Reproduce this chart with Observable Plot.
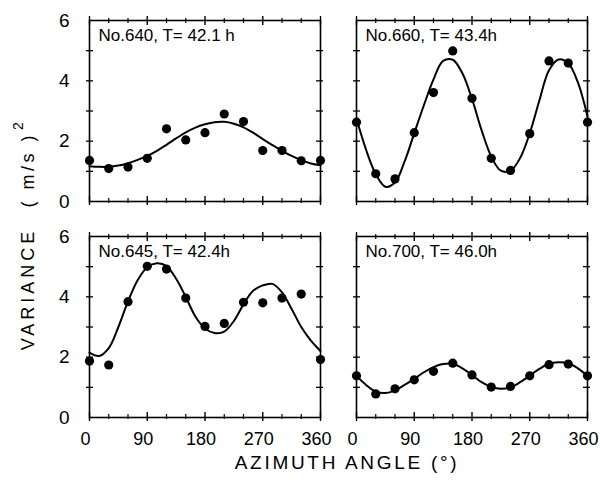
<!DOCTYPE html>
<html>
<head>
<meta charset="utf-8">
<script src="https://cdn.jsdelivr.net/npm/d3@7"></script>
<script src="https://cdn.jsdelivr.net/npm/@observablehq/plot@0.6"></script>
<style>
  body { margin: 0; background: #fff; }
  #chart { width: 600px; height: 482px; }
  #chart svg { display: block; }
</style>
</head>
<body>
<div id="chart"></div>
<script>
// Azimuth angles of the measured variances (degrees)
const angles = [0, 30, 60, 90, 120, 150, 180, 210, 240, 270, 300, 330, 360];
// Angles at which the fitted curves are sampled
const fitAngles = [0, 15, 30, 45, 60, 75, 90, 105, 120, 135, 150, 165, 180,
                   195, 210, 225, 240, 255, 270, 285, 300, 315, 330, 345, 360];

// Panel titles and their grid cells (column, row)
const panelLabels = ["No.640, T= 42.1 h", "No.660, T= 43.4h", "No.645, T= 42.4h", "No.700, T= 46.0h"];
const panelCols = [0, 1, 0, 1];
const panelRows = [0, 0, 1, 1];

// Measured variance (m/s)^2
const obs640 = [1.36, 1.09, 1.14, 1.43, 2.41, 2.04, 2.28, 2.90, 2.65, 1.69, 1.69, 1.35, 1.36];
const obs660 = [2.63, 0.92, 0.75, 2.28, 3.61, 4.99, 3.42, 1.43, 1.03, 2.25, 4.66, 4.59, 2.63];
const obs645 = [1.87, 1.74, 3.84, 5.01, 4.92, 3.96, 3.02, 3.12, 3.82, 3.80, 3.96, 4.09, 1.92];
const obs700 = [1.38, 0.78, 0.95, 1.25, 1.53, 1.80, 1.41, 1.01, 1.03, 1.38, 1.75, 1.77, 1.38];

// Fitted curves
const fit640 = [1.17, 1.15, 1.15, 1.19, 1.27, 1.38, 1.51, 1.68, 1.88, 2.09, 2.29, 2.45, 2.56,
                2.63, 2.64, 2.58, 2.46, 2.28, 2.07, 1.87, 1.68, 1.51, 1.37, 1.26, 1.20];
const fit660 = [2.74, 1.71, 0.91, 0.49, 0.63, 1.33, 2.26, 3.19, 4.05, 4.66, 4.70, 4.25, 3.40,
                2.36, 1.49, 1.02, 1.02, 1.44, 2.26, 3.35, 4.35, 4.71, 4.58, 3.95, 2.82];
const fit645 = [2.15, 2.04, 2.30, 3.00, 3.85, 4.55, 4.98, 5.11, 5.02, 4.60, 4.00, 3.35, 2.95,
                2.80, 2.85, 3.20, 3.75, 4.20, 4.38, 4.43, 4.15, 3.60, 3.00, 2.55, 2.20];
const fit700 = [1.38, 1.08, 0.86, 0.81, 0.90, 1.08, 1.28, 1.50, 1.67, 1.77, 1.78, 1.63, 1.41,
                1.17, 1.01, 0.95, 1.00, 1.17, 1.39, 1.61, 1.78, 1.83, 1.80, 1.63, 1.38];

// Axis ticks
const xLabelTicks = [0, 90, 180, 270, 360];
const xMinorTicks = [30, 60, 120, 150, 210, 240, 300, 330];
const yLabelTicks = [0, 2, 4, 6];
const yTicks = [1, 2, 3, 4, 5];

const observed = [obs640, obs660, obs645, obs700];
const fitted = [fit640, fit660, fit645, fit700];

const pointRows = observed.flatMap((vals, p) =>
  vals.map((v, i) => ({panel: p, col: panelCols[p], row: panelRows[p], angle: angles[i], value: v})));
const curveRows = fitted.flatMap((vals, p) =>
  vals.map((v, i) => ({panel: p, col: panelCols[p], row: panelRows[p], angle: fitAngles[i], value: v})));
const labelRows = panelLabels.map((t, p) => ({label: t, col: panelCols[p], row: panelRows[p]}));

const font = "'Liberation Sans', Arial, sans-serif";

// tick lengths in axis units (one pixel is about 1.56° across and 0.033 up)
const degPx = 360 / 231, valPx = 6 / 182;
const tickColor = "#000";

const chart = Plot.plot({
  width: 600,
  height: 482,
  marginLeft: 89,
  marginRight: 13,
  marginTop: 19,
  marginBottom: 64,
  style: {fontFamily: font, fontSize: "17px", color: "#000", background: "#fff"},
  fx: {domain: [0, 1], axis: null, paddingInner: 0.135, paddingOuter: 0},
  fy: {domain: [0, 1], axis: null, paddingInner: 0.161, paddingOuter: 0},
  x: {domain: [0, 360]},
  y: {domain: [0, 6]},
  marks: [
    Plot.frame({stroke: "#000", strokeWidth: 1.6}),
    // border ticks on every panel, crossing the frame
    Plot.ruleX(xLabelTicks, {x: d => d, y1: -4 * valPx, y2: 5 * valPx, stroke: tickColor, strokeWidth: 1.4}),
    Plot.ruleX(xMinorTicks, {x: d => d, y1: -2 * valPx, y2: 3 * valPx, stroke: tickColor, strokeWidth: 1.2}),
    Plot.ruleX(xLabelTicks, {x: d => d, y1: 6 - 5 * valPx, y2: 6 + 4 * valPx, stroke: tickColor, strokeWidth: 1.4}),
    Plot.ruleX(xMinorTicks, {x: d => d, y1: 6 - 3 * valPx, y2: 6 + 2 * valPx, stroke: tickColor, strokeWidth: 1.2}),
    Plot.ruleY(yTicks, {y: d => d, x1: -3 * degPx, x2: 4 * degPx, stroke: tickColor, strokeWidth: 1.3}),
    Plot.ruleY(yTicks, {y: d => d, x1: 360 - 4 * degPx, x2: 360 + 3 * degPx, stroke: tickColor, strokeWidth: 1.3}),
    // tick labels on the outer panels
    Plot.axisX({anchor: "bottom", ticks: xLabelTicks, tickSize: 0, tickPadding: 15, label: null,
      tickFormat: d3.format("d"), fontSize: 18, dx: -4}),
    Plot.axisY({anchor: "left", ticks: yLabelTicks, tickSize: 0, tickPadding: 20, label: null,
      tickFormat: d3.format("d"), fontSize: 19}),
    // fitted curves and measured variances
    Plot.line(curveRows, {x: "angle", y: "value", z: "panel", fx: "col", fy: "row",
      curve: "catmull-rom", stroke: "#000", strokeWidth: 2}),
    Plot.dot(pointRows, {x: "angle", y: "value", fx: "col", fy: "row", r: 4.6, fill: "#000", stroke: "none"}),
    Plot.text(labelRows, {fx: "col", fy: "row", text: "label", frameAnchor: "top-left",
      dx: 9, dy: 8, lineAnchor: "top", textAnchor: "start", fontSize: 17, fill: "#000"})
  ]
});

document.getElementById("chart").appendChild(chart);

// Axis titles
const svg = d3.select(chart);
svg.append("text")
  .attr("x", 347).attr("y", 469)
  .attr("text-anchor", "middle")
  .attr("font-family", font).attr("font-size", 19)
  .attr("letter-spacing", "2.7px")
  .attr("fill", "#000")
  .text("AZIMUTH ANGLE (°)");

svg.append("text")
  .attr("transform", "translate(34,289) rotate(-90)")
  .attr("text-anchor", "middle")
  .attr("font-family", font).attr("font-size", 18)
  .attr("letter-spacing", "4px")
  .attr("fill", "#000")
  .text("VARIANCE");

const unit = svg.append("text")
  .attr("transform", "translate(34,163) rotate(-90)")
  .attr("text-anchor", "middle")
  .attr("font-family", font).attr("font-size", 18)
  .attr("letter-spacing", "3.5px")
  .attr("fill", "#000");
unit.append("tspan").text("( m/s )");
unit.append("tspan").attr("dx", 2).attr("dy", -11).attr("font-size", 14).text("2");
</script>
</body>
</html>
